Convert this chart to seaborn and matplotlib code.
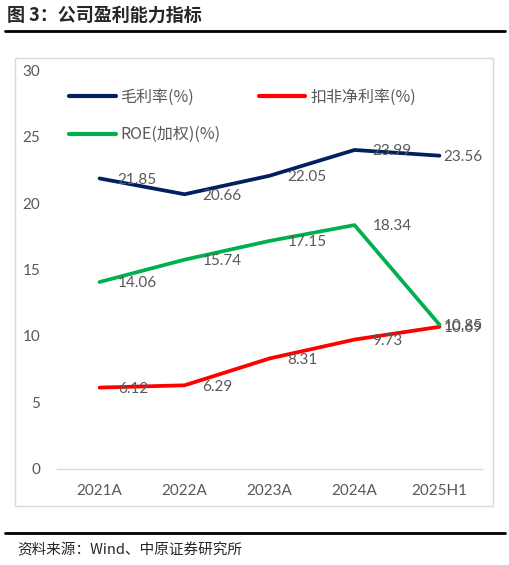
import pandas as pd
import matplotlib.pyplot as plt
import seaborn as sns
from matplotlib.patches import Rectangle
from matplotlib.lines import Line2D

# chart data
years = ['2021A', '2022A', '2023A', '2024A', '2025H1']
gross_margin = [21.85, 20.66, 22.05, 23.99, 23.56]
net_margin_deducted = [6.12, 6.29, 8.31, 9.73, 10.69]
roe_weighted = [14.06, 15.74, 17.15, 18.34, 10.85]
series_names = ['毛利率(%)', '扣非净利率(%)', 'ROE(加权)(%)']
series_colors = ['#002060', '#FF0000', '#00B050']
y_ticks = [0, 5, 10, 15, 20, 25, 30]

sns.set_style('white')
plt.rcParams['font.family'] = ['Lato', 'Noto Sans CJK SC', 'DejaVu Sans']

# long-form table for seaborn
df = pd.DataFrame({
    'year': years * 3,
    'value': gross_margin + net_margin_deducted + roe_weighted,
    'series': [series_names[0]] * 5 + [series_names[1]] * 5 + [series_names[2]] * 5,
})

fig = plt.figure(figsize=(5.1, 5.65), dpi=100)
ax = fig.add_axes([0.112, 0.170, 0.833, 0.706])

sns.lineplot(data=df, x='year', y='value', hue='series', hue_order=series_names,
             palette=series_colors, linewidth=2.7, sort=False, ax=ax, legend=False)

grey = '#595959'
# data labels, placed to the right of each point
for vals, name in zip([gross_margin, net_margin_deducted, roe_weighted], series_names):
    for i, v in enumerate(vals):
        dx = 3 if i == len(vals) - 1 else 13
        ax.annotate(f'{v:.2f}', (i, v), xytext=(dx, -1), textcoords='offset points',
                    ha='left', va='center', fontsize=11, color=grey)

ax.set_ylim(0, 30)
ax.set_xlim(-0.5, 4.5)
ax.set_yticks(y_ticks)
ax.set_xlabel('')
ax.set_ylabel('')
ax.tick_params(axis='y', length=0, pad=12, labelsize=11, labelcolor=grey)
ax.tick_params(axis='x', length=0, pad=11, labelsize=11, labelcolor=grey)
for s in ['top', 'left', 'right']:
    ax.spines[s].set_visible(False)
ax.spines['bottom'].set_color('#D9D9D9')
ax.spines['bottom'].set_linewidth(1)

# legend in excel row order
handles = [Line2D([], [], color=c, linewidth=3, solid_capstyle='round') for c in series_colors]
order = [0, 2, 1]
ax.legend([handles[k] for k in order], [series_names[k] for k in order],
          ncol=2, loc='upper left', bbox_to_anchor=(-0.005, 0.99), frameon=False,
          labelcolor=grey, handlelength=2.9, handletextpad=0.3,
          columnspacing=2.4, labelspacing=1.3,
          prop={'family': ['Noto Sans CJK SC', 'DejaVu Sans'], 'size': 11.5})

# chart frame
fig.patches.append(Rectangle((15 / 510, 1 - 506 / 565), 478 / 510, 448 / 565,
                             transform=fig.transFigure, fill=False,
                             edgecolor='#D9D9D9', linewidth=1))

# title and source
fig.text(7 / 510, 1 - 15 / 565, '图 3：公司盈利能力指标', fontsize=13, fontweight='bold',
         va='center', ha='left', family=['Noto Sans CJK SC', 'DejaVu Sans'])
fig.add_artist(Line2D([5 / 510, 505 / 510], [1 - 31 / 565] * 2, color='black',
                      linewidth=2, transform=fig.transFigure))
fig.add_artist(Line2D([5 / 510, 505 / 510], [1 - 533 / 565] * 2, color='black',
                      linewidth=2, transform=fig.transFigure))
fig.text(17 / 510, 1 - 550 / 565, '资料来源：Wind、中原证券研究所', fontsize=10.5,
         va='center', ha='left', family=['Noto Sans CJK SC', 'DejaVu Sans'])

fig.savefig('out.png', dpi=100)
